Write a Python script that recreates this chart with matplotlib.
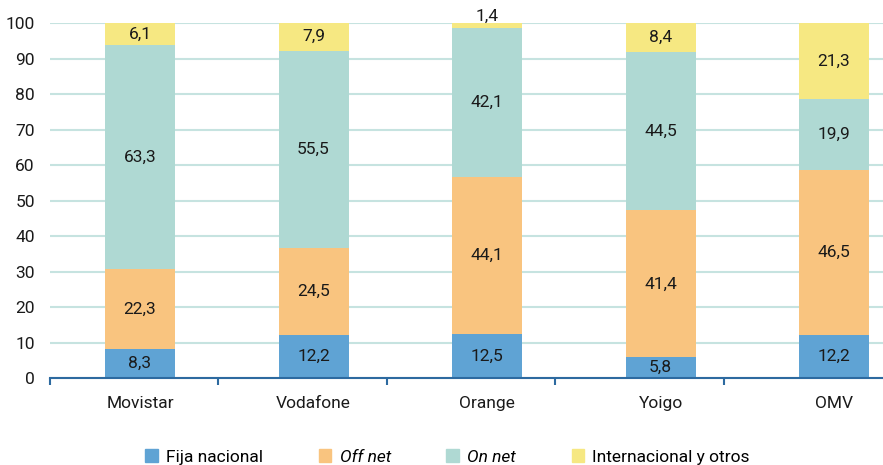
import numpy as np
import matplotlib
matplotlib.use("Agg")
import matplotlib.pyplot as plt
from matplotlib.patches import Patch

plt.rcParams["font.family"] = ["Roboto", "DejaVu Sans"]

operators = ["Movistar", "Vodafone", "Orange", "Yoigo", "OMV"]
fija_nacional = [8.3, 12.2, 12.5, 5.8, 12.2]
off_net = [22.3, 24.5, 44.1, 41.4, 46.5]
on_net = [63.3, 55.5, 42.1, 44.5, 19.9]
internacional = [6.1, 7.9, 1.4, 8.4, 21.3]

series = [
    ("Fija nacional", fija_nacional, "#5fa3d4", "normal"),
    ("Off net", off_net, "#f9c47f", "italic"),
    ("On net", on_net, "#afd9d3", "italic"),
    ("Internacional y otros", internacional, "#f6e882", "normal"),
]

fig = plt.figure(figsize=(8.83, 4.65), dpi=100)
ax = fig.add_axes([0.0566, 0.187, 0.9434, 0.7635])

x = np.arange(len(operators))
bottom = np.zeros(len(operators))
for name, vals, color, style in series:
    vals = np.array(vals)
    ax.bar(x, vals, width=0.403, bottom=bottom, color=color, zorder=2)
    for xi, b, v in zip(x, bottom, vals):
        yc = b + v / 2 if v >= 3 else b + v + 1.8
        ax.text(xi, yc, f"{v:.1f}".replace(".", ","), ha="center",
                va="center", fontsize=12.5, color="#1a1a1a", zorder=3,
                clip_on=False)
    bottom += vals

ax.set_ylim(0, 100)
ax.set_xlim(-0.519, 4.282)
ax.set_yticks(np.arange(0, 101, 10))
ax.yaxis.grid(True, color="#c6e3e0", linewidth=1.5, zorder=0)
ax.set_axisbelow(True)
ax.tick_params(axis="y", length=0, labelsize=12.5, pad=11, colors="#1a1a1a")

ax.set_xticks(x)
ax.set_xticklabels(operators)
ax.tick_params(axis="x", length=0, labelsize=12.5, pad=13, colors="#1a1a1a")
ax.set_xticks(np.arange(5) * 0.971 - 0.519, minor=True)
ax.tick_params(axis="x", which="minor", length=5, width=1.5,
               color="#2d6aa0", direction="out")

for s in ["top", "right", "left"]:
    ax.spines[s].set_visible(False)
ax.spines["bottom"].set_color("#2d6aa0")
ax.spines["bottom"].set_linewidth(1.5)

handles = [Patch(color=c, label=n) for n, _, c, _ in series]
leg = fig.legend(handles=handles, loc="center", ncol=4,
                 bbox_to_anchor=(0.507, 1 - 457 / 465), frameon=False,
                 fontsize=12.5, handlelength=0.7, handleheight=0.7,
                 handletextpad=0.5, columnspacing=3.2)
for t, (_, _, _, style) in zip(leg.get_texts(), series):
    t.set_style(style)

fig.savefig("out.png", dpi=100)
